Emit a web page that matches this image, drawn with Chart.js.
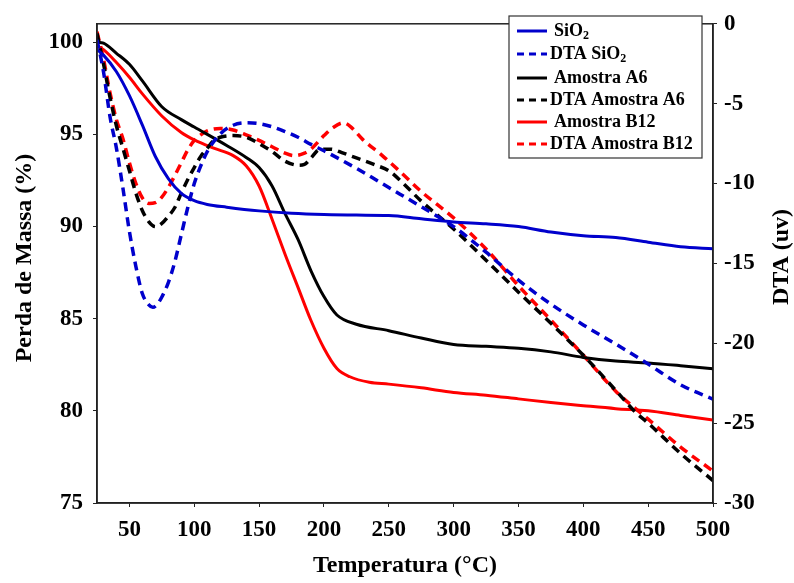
<!DOCTYPE html>
<html>
<head>
<meta charset="utf-8">
<script src="https://cdn.jsdelivr.net/npm/chart.js@4"></script>
<style>
  html, body { margin: 0; padding: 0; background: #fff; }
  canvas { display: block; }
</style>
</head>
<body>
<canvas id="tga" width="794" height="583"></canvas>
<script>
// temperature (°C) and mass loss (%)
const tSiO2 = [25, 30, 40, 50, 60, 70, 80, 90, 100, 110, 125, 150, 175, 200, 225, 250, 275, 300, 325, 350, 375, 400, 425, 450, 475, 500];
const massSiO2 = [99.6, 99.3, 98.4, 97.1, 95.5, 93.8, 92.6, 91.8, 91.4, 91.2, 91.05, 90.85, 90.72, 90.65, 90.62, 90.6, 90.42, 90.25, 90.15, 90.0, 89.7, 89.5, 89.4, 89.15, 88.9, 88.8];

const tA6 = [25, 30, 40, 50, 60, 75, 90, 100, 125, 140, 150, 160, 170, 180, 190, 200, 210, 225, 250, 275, 300, 325, 350, 375, 400, 425, 450, 475, 500];
const massA6 = [100.0, 99.95, 99.4, 98.8, 97.9, 96.5, 95.8, 95.4, 94.4, 93.75, 93.2, 92.2, 90.7, 89.3, 87.6, 86.2, 85.2, 84.7, 84.35, 83.95, 83.6, 83.5, 83.4, 83.2, 82.9, 82.7, 82.6, 82.45, 82.28];

const tB12 = [25, 30, 40, 50, 60, 75, 90, 100, 115, 130, 140, 150, 160, 170, 180, 190, 200, 210, 220, 235, 250, 275, 300, 325, 350, 375, 400, 425, 450, 475, 500];
const massB12 = [99.8, 99.6, 98.9, 98.1, 97.2, 96.0, 95.1, 94.7, 94.25, 93.85, 93.3, 92.2, 90.4, 88.5, 86.7, 84.9, 83.4, 82.3, 81.85, 81.55, 81.45, 81.25, 81.0, 80.85, 80.65, 80.45, 80.28, 80.12, 80.0, 79.75, 79.5];

// DTA signal (uv)
const tdSiO2 = [25, 30, 35, 40, 45, 50, 55, 60, 65, 68, 72, 75, 80, 85, 90, 95, 100, 105, 110, 120, 130, 140, 150, 160, 170, 180, 190, 200, 225, 250, 275, 300, 325, 350, 375, 400, 425, 450, 475, 500];
const dtaSiO2 = [-1.0, -3.0, -5.8, -7.8, -10.3, -13.0, -15.2, -16.9, -17.6, -17.75, -17.5, -17.1, -16.2, -14.9, -13.2, -11.5, -10.0, -8.9, -8.0, -6.9, -6.35, -6.2, -6.25, -6.45, -6.75, -7.1, -7.55, -7.95, -9.05, -10.25, -11.45, -12.7, -14.3, -16.05, -17.55, -18.85, -20.05, -21.3, -22.6, -23.5];

const tdA6 = [25, 30, 35, 40, 45, 50, 55, 60, 65, 70, 75, 80, 85, 90, 95, 100, 105, 110, 115, 120, 130, 140, 150, 160, 170, 180, 185, 190, 197, 205, 215, 225, 240, 250, 260, 275, 300, 325, 350, 375, 400, 425, 440, 450, 475, 500];
const dtaA6 = [-0.6, -2.5, -4.6, -6.4, -7.8, -9.2, -10.6, -11.7, -12.4, -12.7, -12.5, -12.05, -11.5, -10.6, -9.75, -9.0, -8.3, -7.8, -7.3, -7.1, -7.0, -7.1, -7.5, -8.0, -8.6, -8.85, -8.8, -8.4, -7.85, -7.85, -8.1, -8.4, -8.85, -9.2, -9.9, -11.1, -12.85, -14.8, -16.8, -18.75, -20.75, -22.95, -24.3, -25.0, -26.9, -28.6];

const tdB12 = [25, 30, 35, 40, 45, 50, 55, 60, 65, 70, 75, 80, 85, 90, 95, 100, 105, 110, 120, 130, 140, 150, 160, 170, 177, 185, 190, 200, 207, 215, 220, 230, 245, 260, 275, 300, 325, 350, 375, 400, 425, 450, 475, 500];
const dtaB12 = [-0.5, -2.2, -4.3, -6.0, -7.2, -8.7, -10.0, -10.9, -11.25, -11.2, -10.85, -10.25, -9.5, -8.7, -7.9, -7.3, -6.95, -6.7, -6.55, -6.65, -6.95, -7.3, -7.7, -8.1, -8.25, -8.1, -7.85, -7.0, -6.5, -6.2, -6.4, -7.25, -8.25, -9.35, -10.5, -12.15, -14.1, -16.4, -18.55, -20.75, -23.0, -24.75, -26.5, -28.0];

const xTicks = [50, 100, 150, 200, 250, 300, 350, 400, 450, 500];
const massTicks = [75, 80, 85, 90, 95, 100];
const dtaTicks = [-30, -25, -20, -15, -10, -5, 0];

const BLUE = '#0000cc';
const RED = '#ff0000';
const BLACK = '#000000';
const FONT = "'Liberation Serif', 'Times New Roman', serif";

function pts(xs, ys) {
    return xs.map((x, i) => ({ x: x, y: ys[i] }));
}

function solid(label, color, xs, ys) {
    return {
        label: label, data: pts(xs, ys), yAxisID: 'y',
        borderColor: color, borderWidth: 3, pointRadius: 0,
        cubicInterpolationMode: 'monotone'
    };
}

function dashed(label, color, xs, ys) {
    return {
        label: label, data: pts(xs, ys), yAxisID: 'y2',
        borderColor: color, borderWidth: 3.5, borderDash: [9, 6], pointRadius: 0,
        cubicInterpolationMode: 'monotone'
    };
}

// frame, axis titles and the boxed legend are drawn by hand
const decorations = {
    id: 'decorations',
    afterDraw(chart) {
        const ctx = chart.ctx;
        const a = chart.chartArea;
        ctx.save();
        ctx.strokeStyle = '#222';
        ctx.lineWidth = 1.5;
        ctx.strokeRect(a.left, a.top, a.right - a.left, a.bottom - a.top);

        ctx.fillStyle = '#000';
        ctx.textAlign = 'center';
        ctx.textBaseline = 'middle';

        ctx.font = 'bold 24px ' + FONT;
        ctx.fillText('Temperatura (°C)', (a.left + a.right) / 2, 566);

        ctx.save();
        ctx.translate(25, 258);
        ctx.rotate(-Math.PI / 2);
        ctx.font = 'bold 24px ' + FONT;
        ctx.fillText('Perda de Massa (%)', 0, 0);
        ctx.restore();

        ctx.save();
        ctx.translate(782, 257);
        ctx.rotate(-Math.PI / 2);
        ctx.font = 'bold 24px ' + FONT;
        ctx.fillText('DTA (uv)', 0, 0);
        ctx.restore();

        // legend box
        const lx = 509, ly = 16, lw = 193, lh = 142;
        ctx.fillStyle = '#fff';
        ctx.fillRect(lx, ly, lw, lh);
        ctx.strokeStyle = '#333';
        ctx.lineWidth = 1.2;
        ctx.strokeRect(lx, ly, lw, lh);

        const rows = [31, 54, 78, 100, 122, 144];
        chart.data.datasets.forEach((ds, i) => {
            const y = rows[i];
            ctx.strokeStyle = ds.borderColor;
            ctx.lineWidth = 3;
            ctx.setLineDash(ds.borderDash ? [7, 5] : []);
            ctx.beginPath();
            ctx.moveTo(517, y);
            ctx.lineTo(547, y);
            ctx.stroke();
            ctx.setLineDash([]);

            ctx.fillStyle = '#000';
            ctx.textAlign = 'left';
            ctx.textBaseline = 'middle';
            let x = ds.borderDash ? 550 : 554;
            const parts = ds.label.split('₂');
            parts.forEach((p, k) => {
                ctx.font = 'bold 18px ' + FONT;
                ctx.fillText(p, x, y);
                x += ctx.measureText(p).width;
                if (k < parts.length - 1) {
                    ctx.font = 'bold 12px ' + FONT;
                    ctx.fillText('2', x, y + 5);
                    x += ctx.measureText('2').width;
                }
            });
        });
        ctx.restore();
    }
};

new Chart(document.getElementById('tga').getContext('2d'), {
    type: 'line',
    data: {
        datasets: [
            solid('SiO₂', BLUE, tSiO2, massSiO2),
            dashed('DTA SiO₂', BLUE, tdSiO2, dtaSiO2),
            solid('Amostra A6', BLACK, tA6, massA6),
            dashed('DTA Amostra A6', BLACK, tdA6, dtaA6),
            solid('Amostra B12', RED, tB12, massB12),
            dashed('DTA Amostra B12', RED, tdB12, dtaB12)
        ]
    },
    options: {
        responsive: false,
        animation: false,
        devicePixelRatio: 1,
        layout: { padding: { top: 12, left: 0, right: 0, bottom: 0 } },
        plugins: {
            legend: { display: false },
            tooltip: { enabled: false }
        },
        scales: {
            x: {
                type: 'linear', min: 25, max: 500,
                afterBuildTicks: s => { s.ticks = xTicks.map(v => ({ value: v })); },
                afterFit: s => { s.height = 80; },
                grid: { drawOnChartArea: false, tickLength: 4, color: '#222' },
                border: { color: '#222', width: 1.5 },
                ticks: { color: '#000', padding: 9, maxRotation: 0, font: { family: FONT, size: 23, weight: 'bold' } }
            },
            y: {
                position: 'left', min: 75, max: 101,
                afterBuildTicks: s => { s.ticks = massTicks.map(v => ({ value: v })); },
                afterFit: s => { s.width = 97; },
                grid: { drawOnChartArea: false, tickLength: 4, color: '#222' },
                border: { color: '#222', width: 1.5 },
                ticks: { color: '#000', padding: 10, font: { family: FONT, size: 23, weight: 'bold' } }
            },
            y2: {
                position: 'right', min: -30, max: 0,
                afterBuildTicks: s => { s.ticks = dtaTicks.map(v => ({ value: v })); },
                afterFit: s => { s.width = 81; },
                grid: { drawOnChartArea: false, tickLength: 4, color: '#222' },
                border: { color: '#222', width: 1.5 },
                ticks: { color: '#000', padding: 7, font: { family: FONT, size: 23, weight: 'bold' } }
            }
        }
    },
    plugins: [decorations]
});
</script>
</body>
</html>
